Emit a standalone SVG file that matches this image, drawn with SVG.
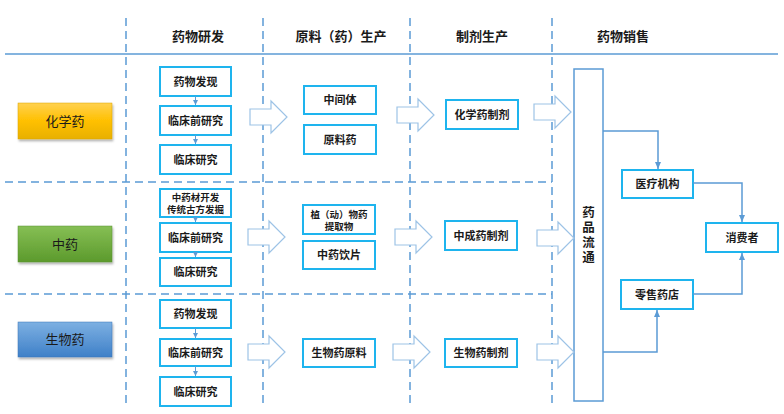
<svg xmlns="http://www.w3.org/2000/svg" width="784" height="414" viewBox="0 0 784 414">
<defs>
<style>
text{font-family:"Liberation Sans","Noto Sans CJK SC",sans-serif;text-anchor:middle;dominant-baseline:central;fill:#1a1a1a}
.hd{font-size:13px;font-weight:bold}
.bx{fill:#fff;stroke:#1EB4EE;stroke-width:2}
.bt{font-size:11px;font-weight:bold}
.vt{font-size:12.5px;font-weight:bold}
.st{font-size:9.5px;font-weight:bold}
.lb{font-size:13px}
.dash{stroke:#5B9BD5;stroke-width:1.5;stroke-dasharray:8 5;fill:none}
.ha{fill:#fff;stroke:#9DC3E6;stroke-width:1.2}
.cn{fill:none;stroke:#5B9BD5;stroke-width:1.5}
.sa{fill:none;stroke:#5B9BD5;stroke-width:1}
</style>
<linearGradient id="gold" x1="0" y1="0" x2="0" y2="1"><stop offset="0" stop-color="#FFD14F"/><stop offset="0.5" stop-color="#FFC000"/><stop offset="1" stop-color="#E8B000"/></linearGradient>
<linearGradient id="green" x1="0" y1="0" x2="0" y2="1"><stop offset="0" stop-color="#86BF55"/><stop offset="1" stop-color="#5C9A2C"/></linearGradient>
<linearGradient id="blue" x1="0" y1="0" x2="0" y2="1"><stop offset="0" stop-color="#7DB0E2"/><stop offset="1" stop-color="#3F80C8"/></linearGradient>
<filter id="sh" x="-10%" y="-10%" width="130%" height="140%"><feDropShadow dx="1" dy="2" stdDeviation="1.2" flood-color="#000" flood-opacity="0.3"/></filter>
<marker id="ar" markerWidth="8" markerHeight="8" refX="7" refY="4" orient="auto" markerUnits="userSpaceOnUse"><path d="M0,1 L7,4 L0,7 Z" fill="#5B9BD5"/></marker>
<marker id="as" markerWidth="6" markerHeight="6" refX="5" refY="3" orient="auto" markerUnits="userSpaceOnUse"><path d="M0,0.5 L5,3 L0,5.5 Z" fill="#5B9BD5"/></marker>
<path id="bigarrow" d="M0,-8 L21,-8 L21,-16 L37,0 L21,16 L21,8 L0,8 Z"/>
</defs>

<g id="grid">
<line x1="5" y1="54" x2="778" y2="54" stroke="#5B9BD5" stroke-width="1.5"/>
<line class="dash" x1="126" y1="18" x2="126" y2="406"/>
<line class="dash" x1="263" y1="18" x2="263" y2="406"/>
<line class="dash" x1="410" y1="18" x2="410" y2="406"/>
<line class="dash" x1="552" y1="18" x2="552" y2="406"/>
<line class="dash" x1="5" y1="182" x2="552" y2="182"/>
<line class="dash" x1="5" y1="294" x2="552" y2="294"/>
</g>

<g id="headers">
<text class="hd" x="198" y="36">药物研发</text>
<text class="hd" x="341" y="36">原料（药）生产</text>
<text class="hd" x="482" y="36">制剂生产</text>
<text class="hd" x="623" y="36">药物销售</text>
</g>

<g id="label-huaxueyao"><rect x="18" y="103" width="94" height="36" fill="url(#gold)" stroke="#D9A400" stroke-width="0.5" filter="url(#sh)"/><text class="lb" x="65" y="121">化学药</text></g>
<g id="label-zhongyao"><rect x="18" y="226" width="94" height="36" fill="url(#green)" stroke="#5A9130" stroke-width="0.5" filter="url(#sh)"/><text class="lb" x="65" y="244">中药</text></g>
<g id="label-shengwuyao"><rect x="18" y="322" width="94" height="35" fill="url(#blue)" stroke="#3A75B8" stroke-width="0.5" filter="url(#sh)"/><text class="lb" x="65" y="339.500">生物药</text></g>

<g id="c1-r1-a"><rect class="bx" x="160" y="67" width="71" height="29"/><text class="bt" x="195.500" y="81.500">药物发现</text></g>
<g id="c1-r1-b"><rect class="bx" x="160" y="106" width="71" height="29"/><text class="bt" x="195.500" y="120.500">临床前研究</text></g>
<g id="c1-r1-c"><rect class="bx" x="160" y="145" width="71" height="29"/><text class="bt" x="195.500" y="159.500">临床研究</text></g>

<g id="c1-r2-a"><rect class="bx" x="160" y="189" width="71" height="28"/><text class="st" x="195.500" y="197.500">中药材开发</text><text class="st" x="195.500" y="209">传统古方发掘</text></g>
<g id="c1-r2-b"><rect class="bx" x="160" y="223" width="71" height="29"/><text class="bt" x="195.500" y="237.500">临床前研究</text></g>
<g id="c1-r2-c"><rect class="bx" x="160" y="258" width="71" height="28"/><text class="bt" x="195.500" y="272">临床研究</text></g>

<g id="c1-r3-a"><rect class="bx" x="160" y="300" width="71" height="28"/><text class="bt" x="195.500" y="314">药物发现</text></g>
<g id="c1-r3-b"><rect class="bx" x="160" y="339" width="71" height="27"/><text class="bt" x="195.500" y="352.500">临床前研究</text></g>
<g id="c1-r3-c"><rect class="bx" x="160" y="377" width="71" height="29"/><text class="bt" x="195.500" y="391.500">临床研究</text></g>

<g id="c2-r1-a"><rect class="bx" x="304" y="86" width="72" height="28"/><text class="bt" x="340" y="100">中间体</text></g>
<g id="c2-r1-b"><rect class="bx" x="304" y="125" width="72" height="29"/><text class="bt" x="340" y="139.500">原料药</text></g>
<g id="c2-r2-a"><rect class="bx" x="303" y="205" width="72" height="29"/><text class="st" x="339" y="214">植（动）物药</text><text class="st" x="339" y="226">提取物</text></g>
<g id="c2-r2-b"><rect class="bx" x="303" y="241" width="72" height="28"/><text class="bt" x="339" y="255">中药饮片</text></g>
<g id="c2-r3"><rect class="bx" x="303" y="339" width="72" height="28"/><text class="bt" x="339" y="353">生物药原料</text></g>

<g id="c3-r1"><rect class="bx" x="446" y="100" width="72" height="29"/><text class="bt" x="482" y="114.500">化学药制剂</text></g>
<g id="c3-r2"><rect class="bx" x="445" y="221" width="72" height="29"/><text class="bt" x="481" y="235.500">中成药制剂</text></g>
<g id="c3-r3"><rect class="bx" x="445" y="339" width="72" height="28"/><text class="bt" x="481" y="353">生物药制剂</text></g>

<g id="circulation"><rect x="574" y="69" width="29" height="332" fill="#fff" stroke="#5B9BD5" stroke-width="1.5"/>
<text class="vt" x="588.500" y="213">药</text><text class="vt" x="588.500" y="228">品</text><text class="vt" x="588.500" y="243">流</text><text class="vt" x="588.500" y="258">通</text></g>

<g id="hospital"><rect class="bx" x="622" y="170" width="71" height="28"/><text class="bt" x="657.500" y="184">医疗机构</text></g>
<g id="pharmacy"><rect class="bx" x="621" y="280" width="72" height="29"/><text class="bt" x="657" y="294.500">零售药店</text></g>
<g id="consumer"><rect class="bx" x="706" y="223" width="72" height="29"/><text class="bt" x="742" y="237.500">消费者</text></g>

<g id="connectors">
<line class="sa" x1="195.500" y1="96" x2="195.500" y2="105" marker-end="url(#as)"/>
<line class="sa" x1="195.500" y1="135" x2="195.500" y2="144" marker-end="url(#as)"/>
<line class="sa" x1="195.500" y1="217" x2="195.500" y2="222" marker-end="url(#as)"/>
<line class="sa" x1="195.500" y1="252" x2="195.500" y2="257" marker-end="url(#as)"/>
<line class="sa" x1="195.500" y1="328" x2="195.500" y2="338" marker-end="url(#as)"/>
<line class="sa" x1="195.500" y1="366" x2="195.500" y2="376" marker-end="url(#as)"/>

<use href="#bigarrow" class="ha" transform="translate(250,117)"/>
<use href="#bigarrow" class="ha" transform="translate(397,115)"/>
<use href="#bigarrow" class="ha" transform="translate(534,112)"/>
<use href="#bigarrow" class="ha" transform="translate(248,237)"/>
<use href="#bigarrow" class="ha" transform="translate(395,237)"/>
<use href="#bigarrow" class="ha" transform="translate(537,238)"/>
<use href="#bigarrow" class="ha" transform="translate(248,352)"/>
<use href="#bigarrow" class="ha" transform="translate(393,352)"/>
<use href="#bigarrow" class="ha" transform="translate(537,352)"/>

<polyline class="cn" points="603,131 658,131 658,169" marker-end="url(#ar)"/>
<polyline class="cn" points="693,183 742,183 742,222" marker-end="url(#ar)"/>
<polyline class="cn" points="603,352 657,352 657,310" marker-end="url(#ar)"/>
<polyline class="cn" points="693,294 742,294 742,253" marker-end="url(#ar)"/>
</g>
</svg>
